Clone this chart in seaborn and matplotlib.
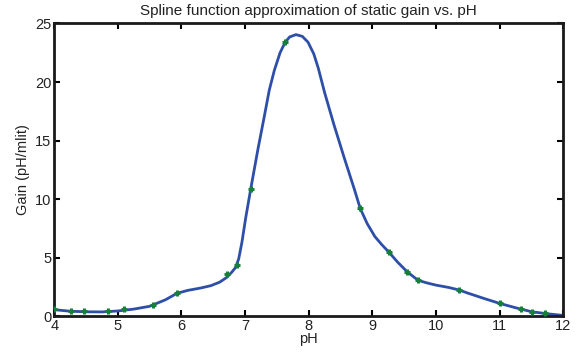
import numpy as np
import pandas as pd
import seaborn as sns
import matplotlib
matplotlib.use("Agg")
import matplotlib.pyplot as plt

# measured static gain points (green markers)
ph_points = [4.0, 4.27, 4.47, 4.84, 5.09, 5.56, 5.93, 6.71, 6.87, 7.09, 7.63,
             8.81, 9.26, 9.55, 9.72, 10.36, 11.0, 11.33, 11.51, 11.72]
gain_points = [0.58, 0.43, 0.42, 0.42, 0.58, 0.92, 1.95, 3.62, 4.33, 10.9, 23.4,
               9.2, 5.47, 3.77, 3.05, 2.24, 1.09, 0.6, 0.34, 0.23]

# spline curve
ph_curve = [4.0, 4.25, 4.5, 4.75, 5.0, 5.25, 5.5, 5.75, 5.93, 6.1, 6.3, 6.46,
            6.6, 6.71, 6.79, 6.85, 6.9, 6.95, 7.01, 7.09, 7.2, 7.3, 7.38,
            7.46, 7.55, 7.63, 7.7, 7.8, 7.9, 7.99, 8.08, 8.15, 8.25, 8.4,
            8.56, 8.72, 8.81, 8.92, 9.04, 9.15, 9.26, 9.4, 9.55, 9.72, 9.85,
            10.0, 10.2, 10.36, 10.5, 10.75, 11.0, 11.25, 11.5, 11.75, 12.0]
gain_curve = [0.55, 0.42, 0.37, 0.36, 0.44, 0.6, 0.84, 1.4, 1.95, 2.2, 2.4, 2.6,
              2.9, 3.3, 3.75, 4.15, 4.9, 6.3, 8.4, 10.9, 14.2, 17.0, 19.3,
              21.0, 22.5, 23.4, 23.85, 24.05, 23.9, 23.4, 22.4, 21.2, 19.1, 16.3,
              13.5, 10.8, 9.2, 7.9, 6.8, 6.1, 5.47, 4.6, 3.78, 3.06, 2.85,
              2.65, 2.45, 2.24, 1.97, 1.52, 1.09, 0.72, 0.38, 0.2, 0.06]

x_ticks = [4, 5, 6, 7, 8, 9, 10, 11, 12]
y_ticks = [0, 5, 10, 15, 20, 25]

curve = pd.DataFrame({"pH": ph_curve, "gain": gain_curve})
points = pd.DataFrame({"pH": ph_points, "gain": gain_points})

sns.set_theme(style="white")
plt.rcParams["font.family"] = ["Liberation Sans", "DejaVu Sans"]

fig = plt.figure(figsize=(5.77, 3.56), dpi=100)
ax = fig.add_axes([0.094, 0.112, 0.882, 0.822])

sns.lineplot(data=curve, x="pH", y="gain", ax=ax, color="#2d4fa8", lw=2, sort=False)
sns.scatterplot(data=points, x="pH", y="gain", ax=ax, marker="+", s=22,
                color="#14803a", linewidth=2.2, zorder=3)

ax.set_xlim(4, 12)
ax.set_ylim(0, 25)
ax.set_xticks(x_ticks)
ax.set_yticks(y_ticks)
ax.tick_params(direction="in", length=4, width=1.5, labelsize=10.5, pad=2,
               top=True, right=True, bottom=True, left=True, colors="black",
               labelcolor="#222222")
for s in ax.spines.values():
    s.set_color("#1a1a1a")
    s.set_linewidth(2)

ax.set_title("Spline function approximation of static gain vs. pH", fontsize=11,
             color="#222222", pad=6)
ax.set_xlabel("pH", fontsize=10.5, color="#222222", labelpad=-1)
ax.set_ylabel("Gain (pH/mlit)", fontsize=10.5, color="#222222", labelpad=4)

fig.savefig("out.png", dpi=100)
